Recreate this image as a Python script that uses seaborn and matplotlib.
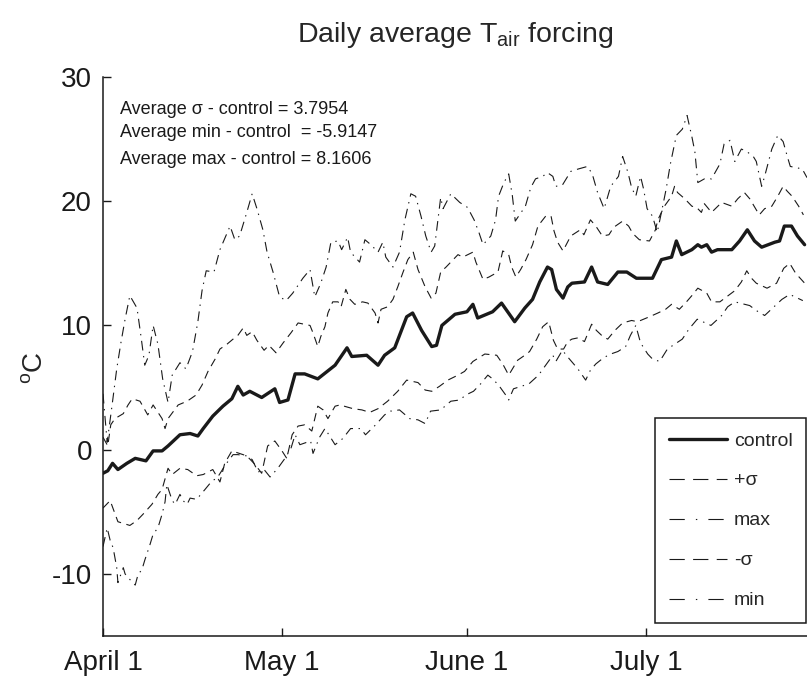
import matplotlib
matplotlib.use("Agg")
import matplotlib.pyplot as plt
from matplotlib.lines import Line2D
import seaborn as sns
import pandas as pd

# ---------------- data (day 0 = April 1) ----------------
tick_days = [0, 30, 61, 91]
tick_labels = ["April 1", "May 1", "June 1", "July 1"]
ytick_vals = [-10, 0, 10, 20, 30]

ctrl_day = [0, 0.8, 1.6, 2.5, 4.0, 5.4, 7.2, 8.4, 9.9, 10.9, 12.9, 14.6, 15.9, 16.8,
            18.4, 20.1, 21.6, 22.6, 23.5, 24.6, 26.6, 28.8, 29.6, 31.0, 32.2, 33.8,
            36.0, 38.9, 40.9, 41.7, 44.2, 46.1, 47.2, 48.9, 50.9, 51.9, 53.4, 55.1,
            55.9, 56.8, 59.0, 61.0, 62.0, 62.8, 65.3, 66.8, 69.0, 70.7, 72.0, 73.2,
            74.5, 75.2, 76.0, 77.1, 77.9, 78.6, 80.7, 81.9, 82.9, 84.6, 86.3, 87.8,
            89.4, 92.1, 93.6, 95.3, 96.1, 97.0, 98.7, 99.7, 100.3, 101.2, 102.0,
            103.0, 105.4, 106.7, 108.0, 109.2, 110.4, 112.6, 113.4, 114.2, 115.4,
            116.4, 117.6]
ctrl_val = [-1.9, -1.7, -1.1, -1.6, -1.1, -0.7, -0.9, -0.1, -0.1, 0.3, 1.2, 1.3, 1.1, 1.7,
            2.7, 3.5, 4.1, 5.1, 4.4, 4.7, 4.2, 4.9, 3.8, 4.0, 6.1, 6.1,
            5.7, 6.8, 8.2, 7.5, 7.6, 6.8, 7.6, 8.2, 10.7, 11.0, 9.6, 8.3,
            8.4, 10.0, 10.9, 11.1, 11.7, 10.6, 11.1, 11.8, 10.3, 11.4, 12.1, 13.5,
            14.7, 14.5, 12.9, 12.2, 13.1, 13.4, 13.5, 14.7, 13.5, 13.3, 14.3, 14.3,
            13.8, 13.8, 15.3, 15.5, 16.8, 15.7, 16.1, 16.5, 16.3, 16.5, 15.9,
            16.1, 16.1, 16.8, 17.7, 16.8, 16.3, 16.7, 16.8, 18.0, 18.0,
            17.2, 16.5]

psig_day = [0, 0.8, 1.3, 2.0, 3.4, 4.2, 4.9, 6.2, 7.5, 8.4, 9.9, 10.4, 10.9, 12.6, 14.1,
            15.6, 16.6, 17.6, 18.8, 19.6, 20.8, 21.8, 22.6, 23.5, 24.1, 25.0, 25.8,
            27.0, 27.8, 29.0, 30.2, 31.5, 32.7, 34.7, 35.2, 36.0, 36.5, 37.2, 37.7,
            38.5, 39.4, 39.9, 40.7, 41.4, 42.2, 43.5, 44.4, 45.6, 46.1, 46.6, 47.7,
            48.6, 49.4, 50.3, 51.1, 52.0, 52.8, 54.0, 55.0, 55.8, 56.6, 57.5, 58.3,
            59.5, 60.3, 62.0, 62.5, 63.7, 64.7, 66.2, 67.0, 68.0, 68.5, 69.2, 70.0,
            70.9, 72.0, 72.9, 74.2, 75.1, 75.6, 76.2, 77.1, 78.4, 80.0, 80.6, 81.7,
            82.6, 83.7, 84.8, 85.6, 87.1, 88.1, 88.8, 89.9, 91.6, 92.6, 93.0, 94.1,
            95.3, 95.8, 96.3, 97.5, 98.7, 99.5, 100.3, 100.8, 102.0, 103.7, 105.4,
            106.4, 107.5, 108.4, 110.0, 110.9, 112.1, 113.1, 114.0, 114.7, 115.5,
            116.6, 117.4]
psig_val = [1.0, 0.3, 2.0, 2.5, 2.9, 3.6, 4.1, 3.9, 2.8, 3.6, 2.5, 1.7, 2.5, 3.6, 3.9,
            4.4, 5.2, 6.3, 7.3, 8.1, 8.5, 8.9, 9.2, 9.8, 9.2, 9.5, 8.8,
            8.0, 8.4, 7.8, 8.6, 9.4, 10.2, 10.0, 9.4, 8.3, 9.1, 9.9, 11.0,
            11.9, 11.9, 11.5, 12.9, 12.1, 11.7, 11.9, 11.8, 11.0, 10.2, 11.3, 11.5,
            12.1, 13.1, 14.3, 15.3, 15.9, 14.5, 13.1, 12.2, 12.6, 14.3, 14.7, 15.1,
            15.7, 15.5, 15.9, 15.1, 13.7, 13.9, 14.3, 16.0, 15.7, 14.7, 13.9, 14.5,
            15.3, 16.5, 18.0, 18.8, 18.8, 17.6, 16.7, 16.0, 17.2, 17.7, 17.3, 18.5,
            18.0, 17.2, 17.3, 17.9, 18.4, 18.0, 17.4, 16.9, 16.8, 17.7, 18.5, 19.6,
            20.4, 21.2, 20.7, 20.2, 19.6, 19.5, 19.1, 19.8, 19.1, 19.9, 19.6,
            20.2, 20.7, 20.2, 18.9, 19.4, 19.6, 20.4, 21.2, 20.8, 20.4,
            19.6, 18.9]

max_day = [0, 0.7, 1.5, 2.3, 3.0, 3.7, 4.5, 5.7, 6.4, 7.0, 7.7, 8.4, 9.2, 10.0, 10.9,
           11.6, 12.9, 13.9, 15.0, 15.9, 16.6, 17.3, 18.6, 19.6, 21.3, 22.1, 22.9,
           24.1, 25.0, 25.8, 26.8, 27.5, 28.5, 29.6, 30.7, 31.8, 33.5, 34.7, 35.5,
           36.5, 37.4, 38.2, 39.4, 40.0, 41.0, 41.5, 43.0, 43.9, 44.9, 46.1, 46.9,
           47.4, 48.6, 49.7, 50.6, 51.6, 52.4, 53.3, 54.1, 55.0, 55.6, 56.6, 57.0,
           58.3, 59.8, 61.1, 62.2, 63.0, 63.7, 65.0, 65.8, 66.3, 67.2, 68.0, 68.6,
           69.1, 70.8, 71.7, 72.5, 73.7, 74.5, 75.4, 75.9, 77.0, 78.4, 79.7, 81.2,
           82.0, 82.9, 84.0, 85.1, 86.4, 87.1, 88.0, 88.6, 89.3, 90.1, 90.6, 91.2,
           92.1, 92.9, 93.6, 94.4, 95.1, 96.1, 97.1, 97.9, 98.7, 99.2, 99.7, 100.8,
           102.0, 103.4, 104.1, 105.1, 105.9, 107.0, 107.9, 109.0, 109.5, 110.4,
           110.9, 112.1, 113.1, 114.0, 114.7, 115.2, 117.2, 118.0]
max_val = [4.5, 0.6, 3.5, 6.5, 8.6, 10.5, 12.4, 11.4, 9.0, 6.8, 7.6, 10.0, 8.5, 5.7, 3.8,
           6.0, 7.0, 6.5, 7.9, 10.3, 12.8, 14.4, 14.3, 16.1, 18.0, 16.9, 17.2,
           19.1, 20.6, 19.4, 17.7, 15.9, 14.3, 12.3, 12.0, 12.6, 13.8, 14.5, 12.3,
           13.4, 14.7, 16.7, 16.8, 16.1, 17.1, 15.9, 15.1, 16.9, 16.5, 15.9, 16.7,
           15.5, 14.7, 15.9, 18.5, 20.6, 20.4, 18.8, 17.2, 15.9, 16.4, 20.3, 19.4,
           20.6, 19.9, 19.5, 18.5, 17.5, 16.5, 17.2, 18.5, 20.4, 21.5, 22.2, 20.5,
           18.4, 19.6, 21.1, 21.8, 22.0, 22.3, 22.0, 21.2, 21.3, 22.4, 22.6, 22.8,
           22.2, 20.7, 19.4, 21.2, 22.0, 23.6, 22.3, 21.1, 20.4, 22.0, 21.0, 19.4,
           18.8, 17.5, 19.1, 21.0, 23.0, 25.3, 25.8, 26.9, 25.2, 24.0, 21.5, 21.8,
           21.8, 23.0, 24.6, 24.9, 23.2, 24.2, 24.0, 23.6, 23.2, 21.2,
           22.0, 24.2, 25.3, 24.8, 23.6, 22.8, 22.6, 21.9]

msig_day = [0, 1.2, 2.5, 4.5, 5.7, 6.7, 8.2, 9.2, 9.9, 10.9, 11.6, 12.9, 14.2, 15.7,
            16.8, 18.4, 19.6, 20.4, 21.6, 24.1, 25.5, 26.6, 27.6, 28.8, 30.0, 30.8,
            31.7, 32.7, 33.8, 35.0, 36.0, 36.9, 37.7, 38.9, 39.7, 41.9, 43.4, 44.7,
            46.1, 47.7, 49.4, 50.9, 52.8, 54.0, 55.1, 56.4, 57.8, 59.5, 60.6, 62.0,
            64.0, 66.0, 67.0, 68.0, 69.5, 70.7, 71.5, 72.7, 73.7, 74.7, 75.5, 76.2,
            77.2, 77.9, 78.6, 79.6, 80.7, 81.9, 82.7, 83.8, 84.6, 85.8, 87.1, 88.6,
            89.6, 91.6, 93.0, 94.3, 95.3, 96.6, 97.8, 98.7, 99.7, 101.2, 102.0,
            103.4, 105.9, 107.0, 107.9, 108.7, 109.5, 111.3, 112.9, 114.1, 115.1,
            116.1, 117.8]
msig_val = [-4.7, -4.1, -5.8, -6.1, -5.7, -5.2, -4.4, -3.6, -3.2, -1.5, -2.0, -1.5, -1.6, -2.1,
            -2.0, -1.6, -2.6, -1.1, -0.1, -0.5, -1.2, -1.9, 0.3, 0.7, -0.1, -0.7,
            1.2, 1.9, 2.0, 1.5, 3.5, 3.2, 2.5, 3.5, 3.6, 3.3, 3.2, 3.0,
            3.3, 3.9, 4.7, 5.6, 5.4, 4.8, 4.7, 5.1, 5.6, 6.0, 6.3, 7.1,
            7.7, 7.6, 6.9, 6.0, 7.2, 7.6, 7.9, 8.9, 9.9, 10.3, 8.8, 8.1,
            8.1, 8.7, 8.9, 9.0, 8.7, 10.1, 9.6, 9.1, 8.9, 9.6, 10.2, 10.4,
            10.3, 10.7, 11.0, 11.3, 11.7, 11.3, 11.9, 12.4, 13.0, 12.6, 11.9,
            11.9, 12.8, 13.5, 14.4, 13.8, 13.4, 13.0, 13.4, 14.6, 15.0,
            14.2, 13.3]

min_day = [0, 0.7, 1.2, 1.7, 2.0, 2.3, 2.5, 3.4, 3.7, 4.2, 5.4, 5.9, 6.5, 7.0, 7.9,
           8.4, 9.2, 9.9, 10.4, 10.7, 11.6, 12.1, 12.9, 13.4, 14.1, 14.6, 15.7, 17.1,
           18.3, 19.1, 19.9, 20.4, 21.8, 22.6, 24.1, 25.0, 26.0, 27.0, 28.0, 29.3,
           30.5, 31.5, 32.2, 33.0, 34.8, 35.2, 36.3, 37.2, 38.9, 40.2, 41.5, 43.2,
           44.0, 45.7, 47.2, 48.2, 49.7, 51.4, 52.8, 54.0, 54.9, 56.6, 58.3, 59.8,
           60.8, 62.1, 63.3, 64.5, 65.3, 66.3, 67.5, 68.0, 68.8, 71.4, 73.0, 74.2,
           75.4, 75.9, 77.0, 78.0, 79.6, 80.9, 81.7, 82.6, 83.9, 85.1, 86.3, 87.6,
           88.4, 89.3, 90.1, 91.3, 92.1, 93.3, 94.6, 97.1, 98.2, 99.6, 101.9, 103.7,
           104.7, 105.9, 108.4, 109.5, 110.9, 113.8, 115.1, 117.3]
min_val = [-7.8, -6.3, -7.3, -7.9, -8.7, -9.5, -10.7, -9.5, -10.0, -10.3, -10.9, -10.0, -9.7, -8.9, -7.6,
           -6.8, -6.3, -5.2, -4.2, -2.8, -4.1, -4.4, -3.6, -4.1, -4.4, -3.9, -4.0, -3.2,
           -2.5, -2.3, -1.7, -1.3, -0.4, -0.4, -0.5, -0.8, -1.8, -1.6, -2.2, -1.5,
           -0.7, 0.1, 1.2, 0.4, 0.7, -0.3, 1.0, 1.7, 0.4, 0.9, 1.7, 1.7,
           1.2, 2.0, 2.8, 3.1, 3.2, 2.5, 2.4, 2.1, 3.1, 3.2, 3.9, 4.0,
           4.4, 4.7, 5.3, 6.0, 5.7, 5.2, 4.4, 4.0, 4.9, 5.3, 6.0, 6.8,
           7.6, 7.1, 8.0, 7.4, 6.5, 5.6, 6.4, 6.9, 7.4, 7.7, 7.9, 8.3,
           9.2, 10.0, 8.6, 7.7, 7.3, 7.1, 8.1, 8.9, 9.7, 10.5, 10.0, 10.8,
           11.5, 11.9, 11.6, 11.2, 10.8, 12.1, 12.5, 12.0]

series_names = ["control", "+\u03c3", "max", "-\u03c3", "min"]
annot_lines = ["Average \u03c3 - control = 3.7954",
               "Average min - control  = -5.9147",
               "Average max - control = 8.1606"]

for d, v in [(ctrl_day, ctrl_val), (psig_day, psig_val), (max_day, max_val),
             (msig_day, msig_val), (min_day, min_val)]:
    assert len(d) == len(v), (len(d), len(v))

# ---------------- styling ----------------
sns.set_theme(style="ticks")
plt.rcParams["font.family"] = ["Liberation Sans", "DejaVu Sans"]
plt.rcParams["axes.unicode_minus"] = False
plt.rcParams["lines.scale_dashes"] = False
plt.rcParams["mathtext.default"] = "regular"

W, H = 807, 684
fig = plt.figure(figsize=(W / 100, H / 100), dpi=100)
ax = fig.add_axes([103 / W, 48 / H, 1 - 103 / W, (636 - 77) / H])

dash_plot = (0, (6, 4))
dashdot_plot = (0, (7, 4, 1, 4))
thin = 0.8

frames = {
    "control": pd.DataFrame({"day": ctrl_day, "T": ctrl_val}),
    "+s": pd.DataFrame({"day": psig_day, "T": psig_val}),
    "max": pd.DataFrame({"day": max_day, "T": max_val}),
    "-s": pd.DataFrame({"day": msig_day, "T": msig_val}),
    "min": pd.DataFrame({"day": min_day, "T": min_val}),
}

sns.lineplot(data=frames["max"], x="day", y="T", ax=ax, color="k", lw=thin,
             linestyle=dashdot_plot, estimator=None, sort=False)
sns.lineplot(data=frames["+s"], x="day", y="T", ax=ax, color="k", lw=thin,
             linestyle=dash_plot, estimator=None, sort=False)
sns.lineplot(data=frames["-s"], x="day", y="T", ax=ax, color="k", lw=thin,
             linestyle=dash_plot, estimator=None, sort=False)
sns.lineplot(data=frames["min"], x="day", y="T", ax=ax, color="k", lw=thin,
             linestyle=dashdot_plot, estimator=None, sort=False)
sns.lineplot(data=frames["control"], x="day", y="T", ax=ax, color="k", lw=2.4,
             estimator=None, sort=False, zorder=5)

ax.set_xlim(0, 118)
ax.set_ylim(-15, 30)
ax.set_xticks(tick_days)
ax.set_xticklabels(tick_labels)
ax.set_yticks(ytick_vals)
ax.set_yticklabels([str(v) for v in ytick_vals])
ax.tick_params(direction="in", length=6, width=1, labelsize=20, colors="k", pad=8)
ax.tick_params(axis="x", pad=10)
ax.set_xlabel("")
ax.set_ylabel(r"$^{o}$C", fontsize=20, rotation=90)
ax.yaxis.set_label_coords(-0.078, 0.48)
for s in ["top", "right"]:
    ax.spines[s].set_visible(False)
for s in ["left", "bottom"]:
    ax.spines[s].set_color("k")
    ax.spines[s].set_linewidth(1.1)
ax.grid(False)

fig.text(455 / W, 1 - 42 / H, r"Daily average T$_{air}$ forcing", ha="center",
         va="baseline", fontsize=20.5)

for txt, yv in zip(annot_lines, [27.0, 25.2, 23.0]):
    ax.text(2.85, yv, txt, fontsize=13, va="baseline", ha="left", color="k")

handles = [
    Line2D([], [], color="k", lw=2.4),
    Line2D([], [], color="k", lw=thin, linestyle=(0, (11, 6))),
    Line2D([], [], color="k", lw=thin, linestyle=(0, (11, 8, 1, 8))),
    Line2D([], [], color="k", lw=thin, linestyle=(0, (11, 6))),
    Line2D([], [], color="k", lw=thin, linestyle=(0, (11, 8, 1, 8))),
]
leg = ax.legend(handles, series_names, loc="lower right",
                bbox_to_anchor=(806 / W, (H - 623) / H), bbox_transform=fig.transFigure,
                borderaxespad=0, fontsize=14, handlelength=3.0, handletextpad=0.35,
                labelspacing=1.15, borderpad=0.7, fancybox=False, framealpha=1,
                edgecolor="k")
leg.get_frame().set_linewidth(1.1)

fig.savefig("out.png", dpi=100)
